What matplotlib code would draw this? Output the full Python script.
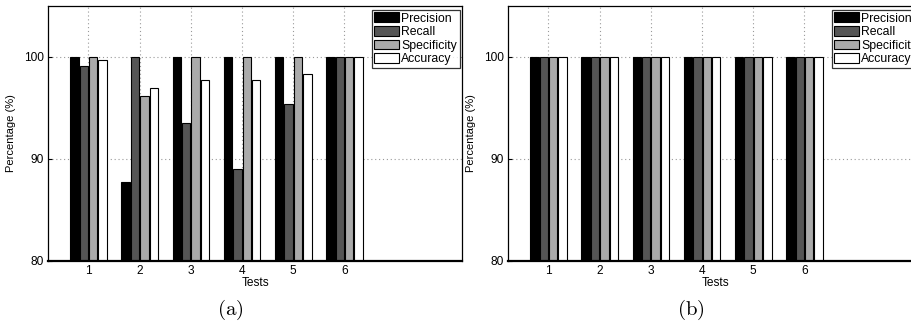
import numpy as np
import matplotlib
matplotlib.use('Agg')
import matplotlib.pyplot as plt

plt.rcParams['font.family'] = ['Liberation Sans', 'DejaVu Sans']
plt.rcParams['mathtext.fontset'] = 'cm'

# dados
tests = [1, 2, 3, 4, 5, 6]
metrics = ['Precision', 'Recall', 'Specificity', 'Accuracy']
precision_a = [100, 87.7, 100, 100, 100, 100]
recall_a = [99.1, 100, 93.5, 89.0, 95.4, 100]
specificity_a = [100, 96.2, 100, 100, 100, 100]
accuracy_a = [99.7, 97.0, 97.7, 97.7, 98.3, 100]
precision_b = [100, 100, 100, 100, 100, 100]
recall_b = [100, 100, 100, 100, 100, 100]
specificity_b = [100, 100, 100, 100, 100, 100]
accuracy_b = [100, 100, 100, 100, 100, 100]

cores = ['#000000', '#555555', '#aaaaaa', '#ffffff']

W, H = 912, 322
fig = plt.figure(figsize=(W / 100, H / 100), dpi=100)

def painel(left, right, series, legenda):
    ax = fig.add_axes([left / W, 1 - 261 / H, (right - left) / W, (261 - 6) / H])
    x = np.array(tests)
    largura = 0.165
    desloc = [-0.275, -0.092, 0.092, 0.275]
    for s, d, c, nome in zip(series, desloc, cores, metrics):
        ax.bar(x + d, s, width=largura, color=c, edgecolor='black', linewidth=0.8, label=nome, zorder=2)
    ax.set_xlim(0.21, 0.21 + (right - left) / 51.2)
    ax.set_ylim(80, 105)
    ax.set_xticks(tests)
    ax.set_yticks([80, 90, 100])
    ax.tick_params(direction='in', length=3, labelsize=8.6, pad=3)
    ax.grid(True, linestyle=(0, (1, 2.5)), color='#999999', linewidth=0.8, zorder=0)
    ax.set_axisbelow(True)
    for sp in ax.spines.values():
        sp.set_linewidth(0.9)
    ax.spines['bottom'].set_linewidth(1.6)
    ax.set_xlabel('Tests', fontsize=8.6, labelpad=0)
    ax.set_ylabel('Percentage (%)', fontsize=8, labelpad=6)
    leg = ax.legend(loc='upper left', bbox_to_anchor=legenda, bbox_transform=fig.transFigure,
                    fontsize=8.8, frameon=True, fancybox=False, edgecolor='black',
                    handlelength=2.0, handleheight=0.85, handletextpad=0.2,
                    labelspacing=0.12, borderpad=0.2, borderaxespad=0)
    leg.get_frame().set_linewidth(0.9)
    return ax

painel(48, 462, [precision_a, recall_a, specificity_a, accuracy_a], (372 / W, 1 - 10 / H))
painel(508, 922, [precision_b, recall_b, specificity_b, accuracy_b], (832 / W, 1 - 10 / H))

fig.text(230 / W, 1 - 310 / H, r'$\mathrm{(a)}$', ha='center', va='center', fontsize=15)
fig.text(691 / W, 1 - 310 / H, r'$\mathrm{(b)}$', ha='center', va='center', fontsize=15)

plt.savefig('out.png', dpi=100)
